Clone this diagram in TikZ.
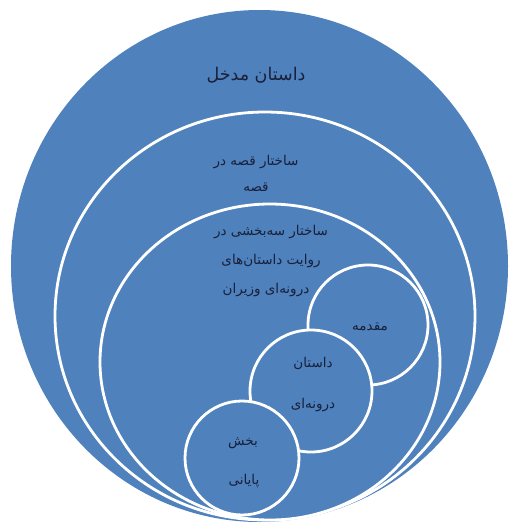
\documentclass[tikz,border=0pt]{standalone}
\usepackage{fontspec}
\newfontfamily\arabicfont[Script=Arabic]{DejaVu Sans}
\TeXXeTstate=1
\definecolor{fillblue}{HTML}{4F81BD}
\definecolor{txtdark}{RGB}{24,32,58}
\tikzset{
  ring/.style={fill=fillblue, draw=white, line width=2.8pt},
  lbl/.style={text=txtdark, inner sep=0pt, font=\arabicfont\fontsize{13.5}{15}\selectfont},
  biglbl/.style={text=txtdark, inner sep=0pt, font=\arabicfont\fontsize{17.5}{19}\selectfont}
}
\begin{document}
\begin{tikzpicture}[x=1pt,y=-1pt]
\useasboundingbox (0,0) rectangle (512,525);
% outer
\fill[fillblue] (259.5,266) ellipse [x radius=248.5, y radius=256];
% nested
\draw[ring] (265,316) ellipse [x radius=210, y radius=204];
\draw[ring] (270,362) ellipse [x radius=170, y radius=158];
% small circles
\draw[ring] (368,325) circle [radius=60];
\draw[ring] (311,391) circle [radius=61];
\draw[ring] (242,458) circle [radius=57];
% texts
\node[biglbl] (t1) at (256,75) {\beginR داستان مدخل\endR};
\node[lbl] (t2a) at (256,162) {\beginR ساختار قصه در\endR};
\node[lbl] (t2b) at (256,187) {\beginR قصه\endR};
\node[lbl] (t3a) at (271,232) {\beginR ساختار سه‌بخشی در\endR};
\node[lbl] (t3b) at (271,261) {\beginR روایت داستان‌های\endR};
\node[lbl] (t3c) at (266,290) {\beginR درونه‌ای وزیران\endR};
\node[lbl] (t4) at (370,327) {\beginR مقدمه\endR};
\node[lbl] (t5a) at (313,363) {\beginR داستان\endR};
\node[lbl] (t5b) at (313,405) {\beginR درونه‌ای\endR};
\node[lbl] (t6a) at (243,443) {\beginR بخش\endR};
\node[lbl] (t6b) at (244,481) {\beginR پایانی\endR};
\end{tikzpicture}
\end{document}
